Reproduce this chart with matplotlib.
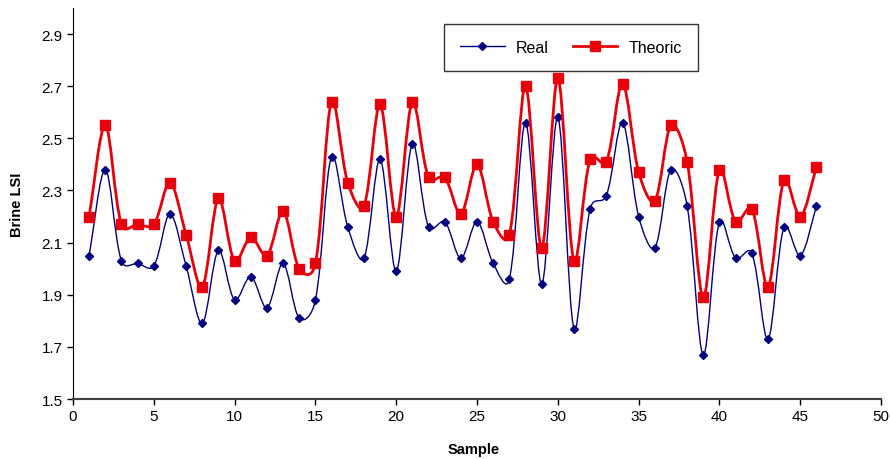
import numpy as np
import matplotlib.pyplot as plt
from matplotlib.path import Path
from matplotlib.patches import PathPatch
from matplotlib.lines import Line2D

plt.rcParams['font.family'] = ['Liberation Sans', 'DejaVu Sans']

# Dati
sample = list(range(1, 47))
real = [2.05, 2.38, 2.03, 2.02, 2.01, 2.21, 2.01, 1.79, 2.07, 1.88,
        1.97, 1.85, 2.02, 1.81, 1.88, 2.43, 2.16, 2.04, 2.42, 1.99,
        2.48, 2.16, 2.18, 2.04, 2.18, 2.02, 1.96, 2.56, 1.94, 2.58,
        1.77, 2.23, 2.28, 2.56, 2.20, 2.08, 2.38, 2.24, 1.67, 2.18,
        2.04, 2.06, 1.73, 2.16, 2.05, 2.24]
theoric = [2.20, 2.55, 2.17, 2.17, 2.17, 2.33, 2.13, 1.93, 2.27, 2.03,
           2.12, 2.05, 2.22, 2.00, 2.02, 2.64, 2.33, 2.24, 2.63, 2.20,
           2.64, 2.35, 2.35, 2.21, 2.40, 2.18, 2.13, 2.70, 2.08, 2.73,
           2.03, 2.42, 2.41, 2.71, 2.37, 2.26, 2.55, 2.41, 1.89, 2.38,
           2.18, 2.23, 1.93, 2.34, 2.20, 2.39]
x_ticks = [0, 5, 10, 15, 20, 25, 30, 35, 40, 45, 50]
y_ticks = [1.5, 1.7, 1.9, 2.1, 2.3, 2.5, 2.7, 2.9]


def smooth_path(ax, x, y):
    # linea smussata tipo Excel: Bezier, bracci a meta' tra uniforme e corde (in pixel)
    p = ax.transData.transform(np.column_stack([x, y]).astype(float))
    n = len(p)
    verts = [p[0]]
    codes = [Path.MOVETO]
    for i in range(n - 1):
        a = p[i - 1] if i > 0 else p[i]
        b, c = p[i], p[i + 1]
        d = p[i + 2] if i + 2 < n else p[i + 1]
        dab = np.linalg.norm(b - a)
        dbc = np.linalg.norm(c - b)
        dcd = np.linalg.norm(d - c)
        k1 = dbc / (dab + dbc) if dab + dbc > 0 else 0.5
        k2 = dbc / (dbc + dcd) if dbc + dcd > 0 else 0.5
        k1 = 0.5 * (k1 + 0.5)
        k2 = 0.5 * (k2 + 0.5)
        c1 = b + (c - a) * k1 / 3.0
        c2 = c - (d - b) * k2 / 3.0
        verts += [c1, c2, c]
        codes += [Path.CURVE4] * 3
    verts = ax.transData.inverted().transform(np.array(verts))
    return Path(verts, codes)


navy = '#000080'
red = '#E8000B'

fig = plt.figure(figsize=(8.9, 4.6), dpi=100)
ax = fig.add_axes([0.082, 0.1304, 0.908, 0.8500])
ax.set_xlim(0, 50)
ax.set_ylim(1.5, 3.0)

ax.add_patch(PathPatch(smooth_path(ax, sample, real), fill=False, edgecolor=navy, lw=1.0, zorder=2))
ax.plot(sample, real, linestyle='none', marker='D', ms=4.5, color=navy, zorder=3)
ax.add_patch(PathPatch(smooth_path(ax, sample, theoric), fill=False, edgecolor=red, lw=2.0, zorder=4))
ax.plot(sample, theoric, linestyle='none', marker='s', ms=6.5, color=red, zorder=5)

ax.set_xticks(x_ticks)
ax.set_yticks(y_ticks)
ax.set_yticklabels([f"{v:.1f}" for v in y_ticks])
ax.tick_params(direction='out', length=4, width=1, labelsize=11, colors='black')
ax.spines['top'].set_visible(False)
ax.spines['right'].set_visible(False)
ax.spines['left'].set_color('black')
ax.spines['bottom'].set_color('#404040')
ax.spines['bottom'].set_linewidth(1.5)

ax.set_xlabel("Sample", fontsize=10.5, fontweight='bold')
ax.set_ylabel("Brine LSI", fontsize=10.5, fontweight='bold')
ax.xaxis.set_label_coords(0.496, -0.11)
ax.yaxis.set_label_coords(-0.061, 0.5)

handles = [Line2D([], [], color=navy, lw=1.0, marker='D', ms=4.5),
           Line2D([], [], color=red, lw=2.0, marker='s', ms=6.5)]
leg = ax.legend(handles, ["Real", "Theoric"], ncol=2, fontsize=11.5,
                loc='upper left', bbox_to_anchor=(0.459, 0.96),
                frameon=True, fancybox=False, edgecolor='black',
                handlelength=2.8, handletextpad=0.7, columnspacing=1.5,
                borderpad=1.0, borderaxespad=0)
leg.get_frame().set_linewidth(1.0)

plt.savefig("out.png", dpi=100)
plt.close(fig)
